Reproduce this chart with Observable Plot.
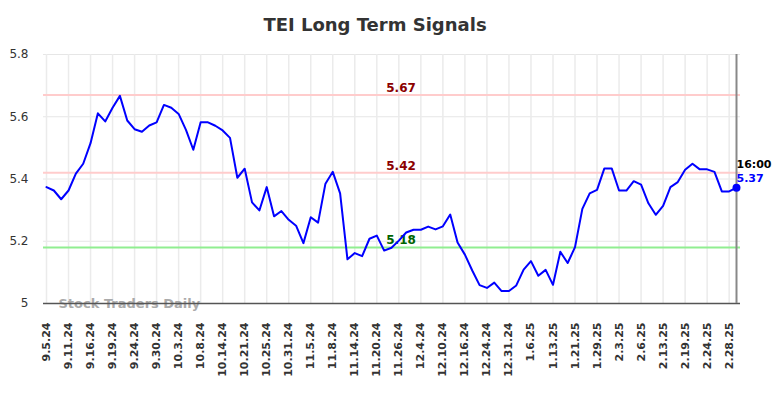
<!DOCTYPE html>
<html><head><meta charset="utf-8">
<script src="https://cdn.jsdelivr.net/npm/d3@7"></script>
<script src="https://cdn.jsdelivr.net/npm/@observablehq/plot@0.6"></script>
<style>
body{margin:0;background:#fff;font-family:"DejaVu Sans",sans-serif;}
#title{height:40px;width:750px;text-align:center;font:bold 18px "DejaVu Sans";line-height:50px;color:#333;white-space:nowrap;overflow:visible}
#chart svg{display:block}
</style></head><body>
<div id="title">TEI Long Term Signals</div>
<div id="chart"></div>
<script>
const values = [
  5.374, 5.363, 5.335, 5.363, 5.417, 5.449, 5.515, 5.611, 5.585, 5.629,
  5.667, 5.588, 5.560, 5.552, 5.572, 5.582, 5.638, 5.629, 5.609, 5.558,
  5.494, 5.582, 5.582, 5.571, 5.556, 5.532, 5.404, 5.433, 5.325, 5.299,
  5.374, 5.280, 5.297, 5.269, 5.250, 5.194, 5.277, 5.260, 5.385, 5.423,
  5.354, 5.142, 5.162, 5.152, 5.208, 5.218, 5.170, 5.179, 5.202, 5.228,
  5.237, 5.237, 5.247, 5.238, 5.248, 5.286, 5.196, 5.157, 5.106, 5.059,
  5.050, 5.067, 5.040, 5.040, 5.058, 5.109, 5.136, 5.089, 5.108, 5.060,
  5.166, 5.130, 5.181, 5.304, 5.354, 5.365, 5.434, 5.434, 5.363, 5.363,
  5.393, 5.382, 5.322, 5.285, 5.314, 5.374, 5.390, 5.430, 5.449, 5.431,
  5.431, 5.423, 5.360, 5.360, 5.372
];
const tickLabels = [
  "9.5.24","9.11.24","9.16.24","9.19.24","9.24.24","9.30.24","10.3.24","10.8.24",
  "10.14.24","10.21.24","10.25.24","10.31.24","11.5.24","11.8.24","11.14.24","11.20.24",
  "11.26.24","12.4.24","12.10.24","12.16.24","12.24.24","12.31.24","1.6.25","1.13.25",
  "1.21.25","1.29.25","2.3.25","2.6.25","2.13.25","2.19.25","2.24.25","2.28.25"
];
const yTicks = [5, 5.2, 5.4, 5.6, 5.8];
const levels = [5.67, 5.42, 5.18];
const levelLineColors = ["#ffcccc", "#ffcccc", "#90ee90"];
const levelTextColors = ["#8b0000", "#8b0000", "#006400"];
const levelLabelIndex = 48.3;
const lastTime = "16:00";
const watermark = "Stock Traders Daily";

const tickEvery = 3;
const tickIdx = tickLabels.map((d, i) => i * tickEvery);
const data = values.map((v, i) => ({i, v}));
const last = data[data.length - 1];
const lastIdx = data.length - 1;

const chart = Plot.plot({
  width: 784, height: 358,
  marginTop: 14, marginBottom: 95, marginLeft: 43, marginRight: 44,
  insetLeft: 3, insetRight: 4,
  x: {domain: [0, lastIdx], label: null},
  y: {domain: [5, 5.8], label: null},
  color: {type: "identity"},
  style: {fontFamily: "DejaVu Sans", background: "#fff", overflow: "visible"},
  marks: [
    Plot.ruleY(yTicks, {stroke: "#e6e6e6", strokeWidth: 1}),
    Plot.ruleX(tickIdx, {y1: 5, y2: 5.8, stroke: "#ebebeb", strokeWidth: 1.5}),
    Plot.ruleY(levels, {stroke: (d, i) => levelLineColors[i], strokeWidth: 2}),
    Plot.text(levels, {x: levelLabelIndex, y: d => d, text: d => d.toFixed(2),
      fill: (d, i) => levelTextColors[i], fontWeight: "bold", fontSize: 12,
      lineAnchor: "bottom", dy: -3}),
    Plot.axisY({ticks: yTicks, label: null, tickSize: 0, tickPadding: 15, fontSize: 12, color: "#333",
      tickFormat: d => d === 5 ? "5" : d.toFixed(1)}),
    Plot.axisX({ticks: tickIdx, label: null, tickFormat: d => tickLabels[d / tickEvery], tickRotate: -90,
      tickSize: 0, tickPadding: 19, fontSize: 11, fontWeight: "bold", color: "#333"}),
    Plot.text([watermark], {frameAnchor: "bottom-left", dx: 15, dy: 4, textAnchor: "start",
      lineAnchor: "bottom", fill: "#aaa", fontSize: 13, fontWeight: "bold"}),
    Plot.ruleY([5], {stroke: "#555", strokeWidth: 1.5}),
    Plot.ruleX([lastIdx], {y1: 5, y2: 5.8, stroke: "#888", strokeWidth: 2}),
    Plot.line(data, {x: "i", y: "v", stroke: "#0000ff", strokeWidth: 2}),
    Plot.dot([last], {x: "i", y: "v", r: 4, fill: "#0000ff"}),
    Plot.text([last], {x: "i", y: "v", text: () => lastTime, textAnchor: "start",
      lineAnchor: "bottom", dy: -20, fill: "#000", fontWeight: "bold", fontSize: 11}),
    Plot.text([last], {x: "i", y: "v", text: d => d.v.toFixed(2), textAnchor: "start",
      lineAnchor: "bottom", dy: -6, fill: "#0000ff", fontWeight: "bold", fontSize: 11})
  ]
});
document.getElementById("chart").appendChild(chart);
</script>
</body></html>
